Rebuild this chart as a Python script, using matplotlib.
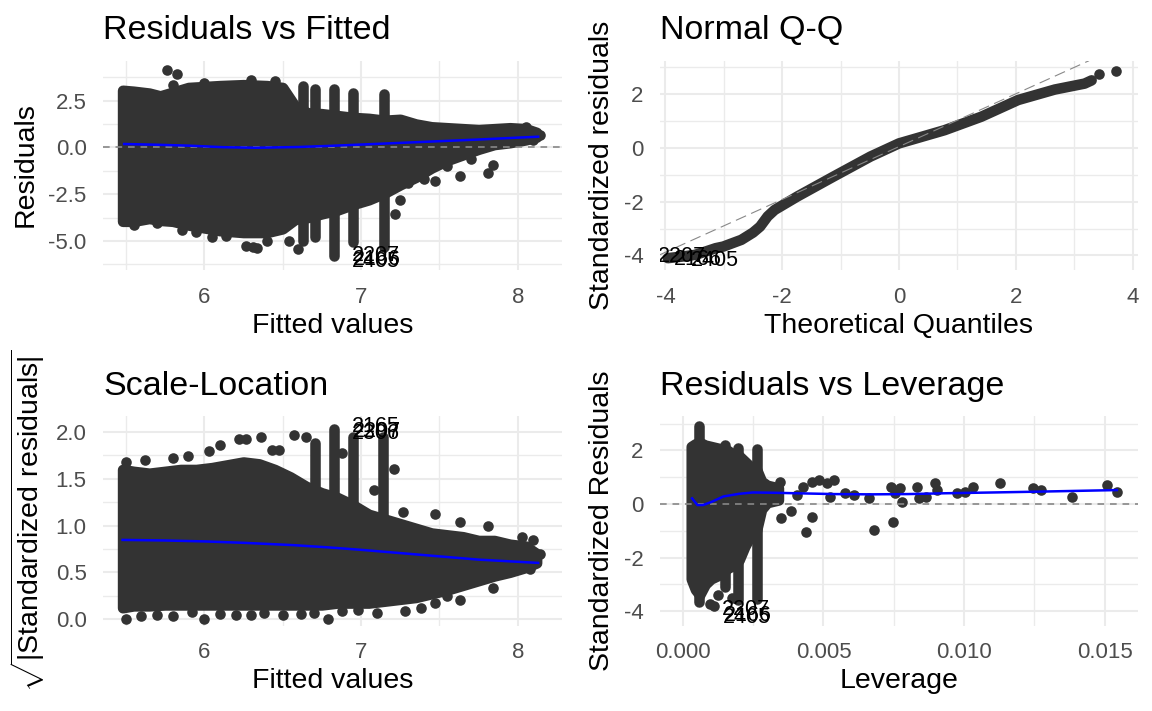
import matplotlib.pyplot as plt

plt.rcParams['font.family'] = ['Liberation Sans', 'DejaVu Sans']
plt.rcParams['mathtext.fontset'] = 'custom'
plt.rcParams['mathtext.rm'] = 'Liberation Sans'

W, H = 1152, 711
PT = '#333333'
GRID = '#EBEBEB'
TICK = '#4D4D4D'
DOT = 58      # marker area
DOT_LW = 7.6  # same diameter as a stroke width

# ---- Residuals vs Fitted ----
rvf_x = [5.48, 5.55, 5.65, 5.72, 5.80, 5.90, 6.00, 6.10, 6.25, 6.40, 6.50, 6.58, 6.66, 6.75,
         6.85, 6.95, 7.05, 7.15, 7.25, 7.35, 7.45, 7.55, 7.65, 7.75, 7.85, 7.95, 8.05, 8.12]
rvf_hi = [3.05, 3.00, 2.90, 2.75, 2.95, 3.20, 3.25, 3.30, 3.35, 3.30, 3.20, 2.20, 1.85, 1.80,
          1.70, 1.60, 1.55, 1.45, 1.50, 1.25, 1.10, 1.05, 1.00, 0.95, 1.00, 1.05, 1.00, 0.80]
rvf_lo = [-3.95, -3.95, -3.80, -3.90, -3.95, -4.15, -4.30, -4.45, -4.55, -4.55, -4.35, -3.85, -3.75, -3.55,
          -3.35, -3.05, -2.80, -2.45, -2.00, -1.60, -1.10, -0.70, -0.40, -0.10, 0.15, 0.25, 0.40, 0.55]
rvf_col_x = [6.63, 6.71, 6.83, 6.95, 7.15]
rvf_col_top = [3.30, 3.10, 3.10, 2.90, 2.85]
rvf_col_bot = [-5.00, -4.80, -5.80, -5.05, -5.30]
rvf_pt_x = [5.76, 5.83, 5.80, 6.30, 6.00, 6.45, 5.55, 5.70, 5.86, 5.95, 6.05, 6.14, 6.27, 6.31,
            6.34, 6.40, 6.54, 6.60, 7.22, 7.25, 7.30, 7.40, 7.47, 7.55, 7.63, 7.81, 7.84, 7.70,
            8.14, 8.10, 8.05, 7.96, 8.00, 7.90]
rvf_pt_y = [4.13, 3.92, 3.33, 3.60, 3.45, 3.55, -4.15, -4.05, -4.40, -4.50, -4.80, -4.75, -5.27, -5.30,
            -5.35, -5.00, -5.00, -5.44, -3.58, -2.80, -1.90, -1.70, -1.80, -1.00, -1.54, -1.37, -0.92, -0.60,
            0.67, 0.40, 1.10, 0.75, 0.90, 0.40]
rvf_fit_x = [5.49, 5.70, 5.91, 6.12, 6.33, 6.60, 6.80, 7.00, 7.25, 7.50, 7.75, 8.00, 8.13]
rvf_fit_y = [0.18, 0.14, 0.09, 0.01, -0.02, 0.02, 0.08, 0.15, 0.24, 0.33, 0.42, 0.52, 0.57]
rvf_lab = ['2207', '2166', '2405']
rvf_lab_x = [6.94, 6.95, 6.94]
rvf_lab_y = [-5.80, -6.00, -6.10]

# ---- Normal Q-Q ----
qq_theo = [-3.96, -3.71, -3.50, -3.39, -3.14, -3.01, -2.70, -2.50, -2.38, -2.25, -2.13,
           -1.74, -1.12, -0.49, 0.00, 0.78, 1.41, 2.04, 2.67, 3.18, 3.30]
qq_std = [-4.10, -4.04, -3.98, -3.91, -3.73, -3.67, -3.42, -3.15, -2.93, -2.55, -2.31,
          -1.81, -1.07, -0.33, 0.16, 0.65, 1.15, 1.77, 2.16, 2.38, 2.50]
qq_tail_x = [3.43, 3.71]
qq_tail_y = [2.75, 2.85]
qq_line_intercept = 0.04
qq_line_slope = 0.98
qq_lab = ['2207', '2166', '2405']
qq_lab_x = [-3.72, -3.45, -3.16]
qq_lab_y = [-4.05, -4.15, -4.20]

# ---- Scale-Location ----
sl_x = [5.48, 5.55, 5.65, 5.75, 5.85, 5.95, 6.05, 6.15, 6.25, 6.35, 6.45, 6.55, 6.65, 6.75,
        6.85, 6.95, 7.05, 7.15, 7.25, 7.35, 7.45, 7.55, 7.65, 7.75, 7.85, 7.95, 8.05, 8.12]
sl_hi = [1.60, 1.58, 1.56, 1.58, 1.60, 1.60, 1.62, 1.65, 1.68, 1.66, 1.60, 1.52, 1.42, 1.35,
         1.30, 1.22, 1.12, 1.07, 1.02, 0.97, 0.92, 0.90, 0.88, 0.84, 0.84, 0.80, 0.78, 0.70]
sl_lo = [0.12, 0.14, 0.14, 0.15, 0.15, 0.15, 0.15, 0.15, 0.15, 0.15, 0.15, 0.15, 0.15, 0.15,
         0.17, 0.17, 0.17, 0.19, 0.21, 0.23, 0.27, 0.31, 0.36, 0.41, 0.46, 0.50, 0.55, 0.60]
sl_col_x = [6.71, 6.83, 6.95, 7.14]
sl_col_top = [1.88, 2.03, 1.95, 1.95]
sl_col_bot = [1.0, 1.2, 1.0, 1.0]
sl_pt_x = [5.50, 5.62, 5.80, 5.90, 6.03, 6.10, 6.22, 6.27, 6.36, 6.43, 6.48, 6.57, 6.65, 6.88,
           7.08, 7.21, 7.27, 7.47, 7.63, 7.81, 8.03, 8.10, 8.14, 8.08, 7.95,
           5.50, 5.60, 5.70, 5.80, 5.92, 6.00, 6.10, 6.20, 6.30, 6.38, 6.50, 6.62, 6.70, 6.79,
           6.88, 6.98, 7.10, 7.28, 7.38, 7.47, 7.63, 7.84, 7.55]
sl_pt_y = [1.68, 1.70, 1.72, 1.74, 1.80, 1.86, 1.93, 1.93, 1.95, 1.81, 1.81, 1.97, 1.95, 1.78,
           1.38, 1.60, 1.15, 1.12, 1.04, 0.99, 0.88, 0.85, 0.69, 0.54, 0.75,
           0.00, 0.03, 0.04, 0.03, 0.07, 0.00, 0.05, 0.04, 0.04, 0.06, 0.04, 0.05, 0.06, 0.00,
           0.08, 0.10, 0.06, 0.08, 0.12, 0.17, 0.20, 0.33, 0.25]
sl_fit_x = [5.48, 5.75, 6.00, 6.25, 6.57, 6.80, 7.00, 7.25, 7.50, 7.75, 8.13]
sl_fit_y = [0.846, 0.840, 0.830, 0.815, 0.790, 0.765, 0.740, 0.705, 0.670, 0.635, 0.600]
sl_lab = ['2165', '2207', '2306']
sl_lab_x = [6.94, 6.95, 6.94]
sl_lab_y = [2.06, 2.01, 1.99]

# ---- Residuals vs Leverage ----
lv_x = [0.00030, 0.00045, 0.00060, 0.00080, 0.00100, 0.00120, 0.00140, 0.00160, 0.00180,
        0.00200, 0.00220, 0.00240, 0.00262, 0.00280, 0.00300, 0.00320, 0.00340]
lv_hi = [2.15, 2.25, 2.30, 2.20, 2.15, 2.10, 2.05, 2.00, 1.85, 1.80, 1.60, 1.40, 1.30, 0.85, 0.70, 0.65, 0.60]
lv_lo = [-2.80, -3.20, -3.40, -3.00, -2.80, -2.70, -2.60, -2.40, -2.30, -2.10, -1.60, -1.20, -1.00,
         -0.20, 0.05, 0.10, 0.15]
lv_col_x = [0.00056, 0.00150, 0.00197, 0.00262]
lv_col_top = [2.90, 2.20, 2.10, 2.05]
lv_col_bot = [-3.65, -3.10, -3.60, -3.55]
lv_pt_x = [0.00095, 0.00111, 0.00125, 0.00175, 0.00347, 0.00350, 0.00386, 0.00406, 0.00426, 0.00439,
           0.00458, 0.00461, 0.00485, 0.00511, 0.00537, 0.00524, 0.00576, 0.00609, 0.00662, 0.00681,
           0.00740, 0.00747, 0.00753, 0.00779, 0.00773, 0.00832, 0.00838, 0.00865, 0.00897, 0.00904,
           0.00976, 0.01002, 0.01032, 0.01127, 0.01245, 0.01273, 0.01382, 0.01507, 0.01543]
lv_pt_y = [-3.75, -3.81, -3.40, -3.50, 0.83, -0.53, -0.28, 0.33, 0.64, -1.03,
           0.83, -0.47, 0.89, 0.77, 0.89, 0.27, 0.40, 0.33, 0.21, -0.97,
           0.64, -0.66, 0.40, 0.09, 0.58, 0.64, 0.21, 0.27, 0.77, 0.52,
           0.40, 0.46, 0.64, 0.77, 0.58, 0.52, 0.27, 0.71, 0.46]
lv_fit_x = [0.00033, 0.00052, 0.00072, 0.00105, 0.00144, 0.00200, 0.00249, 0.00320, 0.00406,
            0.00540, 0.00668, 0.00800, 0.00930, 0.01100, 0.01258, 0.01543]
lv_fit_y = [0.21, -0.04, -0.04, 0.09, 0.28, 0.38, 0.43, 0.42, 0.40, 0.37, 0.36, 0.37, 0.40, 0.43, 0.46, 0.52]
lv_lab = ['2207', '2166', '2405']
lv_lab_x = [0.00140, 0.00146, 0.00142]
lv_lab_y = [-3.95, -4.15, -4.25]


def box(x0, y0, x1, y1):
    return [x0 / W, 1 - y1 / H, (x1 - x0) / W, (y1 - y0) / H]


def setup(ax, xlim, ylim, xmaj, xlabels, xmin, ymaj, ylabels, ymin):
    ax.set_xlim(xlim)
    ax.set_ylim(ylim)
    ax.set_xticks(xmaj)
    ax.set_xticklabels(xlabels)
    ax.set_xticks(xmin, minor=True)
    ax.set_yticks(ymaj)
    ax.set_yticklabels(ylabels)
    ax.set_yticks(ymin, minor=True)
    ax.grid(which='major', color=GRID, lw=1.5)
    ax.grid(which='minor', color=GRID, lw=1.0)
    ax.set_axisbelow(True)
    for s in ax.spines.values():
        s.set_visible(False)
    ax.tick_params(which='both', length=0, pad=12, labelsize=16, labelcolor=TICK)


def cloud(ax, x, lo, hi, cx, ctop, cbot, px, py):
    ax.fill_between(x, lo, hi, color=PT, lw=DOT_LW, edgecolor=PT, joinstyle='round', zorder=2)
    ax.vlines(cx, cbot, ctop, color=PT, lw=DOT_LW, capstyle='round', zorder=2)
    ax.scatter(px, py, s=DOT, color=PT, lw=0, zorder=2)


def zero_line(ax):
    ax.axhline(0, color='#888888', lw=1.2, ls=(0, (4, 3.5)), zorder=3)


def labels(ax, xs, ys, texts, ha='left'):
    for x, y, t in zip(xs, ys, texts):
        ax.text(x, y, t, fontsize=15.5, color='black', ha=ha, va='center', zorder=5, clip_on=True)


fig = plt.figure(figsize=(W / 100, H / 100), dpi=100)

# top-left
ax1 = fig.add_axes(box(103.3, 60.7, 561.7, 270))
setup(ax1, (5.357, 8.28), (-6.55, 4.63), [6, 7, 8], ['6', '7', '8'], [5.5, 6.5, 7.5],
      [-5, -2.5, 0, 2.5], ['-5.0', '-2.5', '0.0', '2.5'], [-6.25, -3.75, -1.25, 1.25, 3.75])
cloud(ax1, rvf_x, rvf_lo, rvf_hi, rvf_col_x, rvf_col_top, rvf_col_bot, rvf_pt_x, rvf_pt_y)
zero_line(ax1)
ax1.plot(rvf_fit_x, rvf_fit_y, color='#0000FF', lw=1.8, zorder=4)
labels(ax1, rvf_lab_x, rvf_lab_y, rvf_lab)

# top-right
ax2 = fig.add_axes(box(660, 60.7, 1138, 270))
setup(ax2, (-4.094, 4.094), (-4.54, 3.23), [-4, -2, 0, 2, 4], ['-4', '-2', '0', '2', '4'], [-3, -1, 1, 3],
      [-4, -2, 0, 2], ['-4', '-2', '0', '2'], [-3, -1, 1, 3])
ax2.plot(qq_theo, qq_std, color=PT, lw=DOT_LW, solid_capstyle='round', solid_joinstyle='round', zorder=2)
ax2.scatter(qq_tail_x, qq_tail_y, s=DOT, color=PT, lw=0, zorder=2)
ax2.axline((0, qq_line_intercept), slope=qq_line_slope, color='#888888', lw=0.8, ls=(0, (10, 5)), zorder=3)
labels(ax2, qq_lab_x, qq_lab_y, qq_lab, ha='center')

# bottom-left
ax3 = fig.add_axes(box(103.3, 416.2, 561.7, 625.5))
setup(ax3, (5.357, 8.28), (-0.07, 2.17), [6, 7, 8], ['6', '7', '8'], [5.5, 6.5, 7.5],
      [0, 0.5, 1, 1.5, 2], ['0.0', '0.5', '1.0', '1.5', '2.0'], [0.25, 0.75, 1.25, 1.75])
cloud(ax3, sl_x, sl_lo, sl_hi, sl_col_x, sl_col_top, sl_col_bot, sl_pt_x, sl_pt_y)
ax3.plot(sl_fit_x, sl_fit_y, color='#0000FF', lw=1.8, zorder=4)
labels(ax3, sl_lab_x, sl_lab_y, sl_lab)

# bottom-right
ax4 = fig.add_axes(box(660, 416.2, 1138, 625.5))
setup(ax4, (-0.00081, 0.01618), (-4.54, 3.28), [0, 0.005, 0.010, 0.015], ['0.000', '0.005', '0.010', '0.015'],
      [0.0025, 0.0075, 0.0125], [-4, -2, 0, 2], ['-4', '-2', '0', '2'], [-3, -1, 1, 3])
cloud(ax4, lv_x, lv_lo, lv_hi, lv_col_x, lv_col_top, lv_col_bot, lv_pt_x, lv_pt_y)
zero_line(ax4)
ax4.plot(lv_fit_x, lv_fit_y, color='#0000FF', lw=1.8, zorder=4)
labels(ax4, lv_lab_x, lv_lab_y, lv_lab)

# titles and axis titles
TS, AS = 24.5, 20.5
fig.text(103.3 / W, 1 - 39.3 / H, 'Residuals vs Fitted', fontsize=TS, va='baseline')
fig.text(660 / W, 1 - 39.3 / H, 'Normal Q-Q', fontsize=TS, va='baseline')
fig.text(103.3 / W, 1 - 394.8 / H, 'Scale-Location', fontsize=TS, va='baseline')
fig.text(660 / W, 1 - 394.8 / H, 'Residuals vs Leverage', fontsize=TS, va='baseline')

fig.text(332.5 / W, 1 - 333 / H, 'Fitted values', fontsize=AS, ha='center', va='baseline')
fig.text(899 / W, 1 - 333 / H, 'Theoretical Quantiles', fontsize=AS, ha='center', va='baseline')
fig.text(332.5 / W, 1 - 688.5 / H, 'Fitted values', fontsize=AS, ha='center', va='baseline')
fig.text(899 / W, 1 - 688.5 / H, 'Leverage', fontsize=AS, ha='center', va='baseline')

fig.text(26 / W, 1 - 165 / H, 'Residuals', fontsize=AS, rotation=90, ha='center', va='center')
fig.text(602 / W, 1 - 165 / H, 'Standardized residuals', fontsize=AS, rotation=90, ha='center', va='center')
fig.text(28 / W, 1 - 521 / H, r'$\sqrt{|\mathrm{Standardized\ residuals}|}$', fontsize=AS,
         rotation=90, ha='center', va='center')
fig.text(602 / W, 1 - 521 / H, 'Standardized Residuals', fontsize=AS, rotation=90, ha='center', va='center')

fig.savefig('out.png', dpi=100, facecolor='white')
